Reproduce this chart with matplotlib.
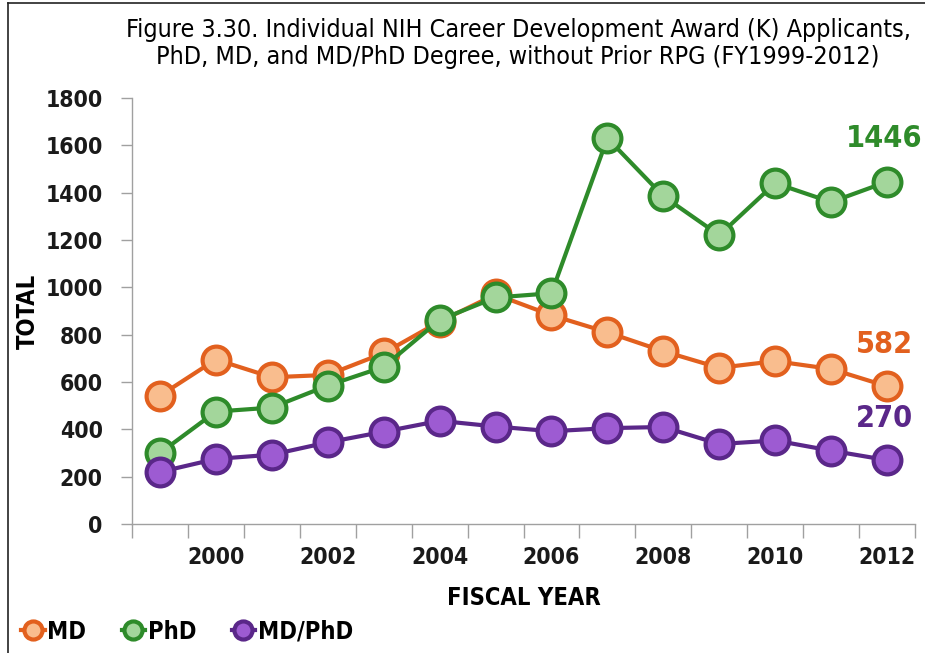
import matplotlib
matplotlib.use('Agg')
import matplotlib.pyplot as plt
from matplotlib.lines import Line2D

plt.rcParams['font.family'] = ['DejaVu Sans']
plt.rcParams['font.stretch'] = 'condensed'

# Data
years = [1999, 2000, 2001, 2002, 2003, 2004, 2005, 2006, 2007, 2008, 2009, 2010, 2011, 2012]
md = [542, 695, 620, 630, 722, 855, 970, 882, 810, 730, 660, 688, 655, 582]
phd = [300, 475, 492, 585, 664, 862, 957, 975, 1630, 1385, 1220, 1440, 1360, 1446]
md_phd = [220, 275, 293, 345, 390, 436, 412, 392, 405, 410, 338, 353, 310, 270]
tick_years = [2000, 2002, 2004, 2006, 2008, 2010, 2012]

series = [
    ('MD', md, '#E2601E', '#F9BD8E'),
    ('PhD', phd, '#2E8B2A', '#A3D69B'),
    ('MD/PhD', md_phd, '#5A2789', '#9D5BD2'),
]

fig = plt.figure(figsize=(9.25, 6.53), dpi=100)
ax = fig.add_axes([0.1427, 0.1975, 0.8465, 0.6525])

for name, vals, edge, face in series:
    ax.plot(years, vals, color=edge, lw=3, marker='o', ms=20,
            mfc=face, mec=edge, mew=3, label=name, zorder=3)

# end-of-series value labels
lab_size = 22
ax.text(2011.95, 1630, str(phd[-1]), color='#2E8B2A', fontsize=lab_size,
        fontweight='bold', ha='center', va='center')
ax.text(2011.95, 757, str(md[-1]), color='#E2601E', fontsize=lab_size,
        fontweight='bold', ha='center', va='center')
ax.text(2011.95, 447, str(md_phd[-1]), color='#5A2789', fontsize=lab_size,
        fontweight='bold', ha='center', va='center')

ax.set_xlim(1998.5, 2012.5)
ax.set_ylim(0, 1800)
ax.set_yticks(range(0, 1801, 200))
ax.set_xticks([y + 0.5 for y in range(1998, 2013)])
ax.set_xticklabels([])
ax.set_xticks(tick_years, minor=True)
ax.set_xticklabels([str(y) for y in tick_years], minor=True)
ax.tick_params(axis='x', which='major', direction='out', length=10,
               width=1, color='#A0A0A0')
ax.tick_params(axis='x', which='minor', length=0, pad=16,
               labelsize=16.5)
ax.tick_params(axis='y', direction='out', length=8, width=1,
               color='#A0A0A0', labelsize=16.5, pad=13)
for lab in ax.get_xticklabels(minor=True) + ax.get_yticklabels():
    lab.set_fontweight('bold')
    lab.set_color('#1a1a1a')

for s in ['top', 'right']:
    ax.spines[s].set_visible(False)
for s in ['left', 'bottom']:
    ax.spines[s].set_color('#A0A0A0')
    ax.spines[s].set_linewidth(1)

ax.set_ylabel('TOTAL', fontsize=17, fontweight='bold', labelpad=4)
ax.set_xlabel('FISCAL YEAR', fontsize=17, fontweight='bold', labelpad=12)

fig.text(0.56, 0.934, 'Figure 3.30. Individual NIH Career Development Award (K) Applicants,\n'
         'PhD, MD, and MD/PhD Degree, without Prior RPG (FY1999-2012)',
         ha='center', va='center', fontsize=18, linespacing=1.15)

handles = [Line2D([], [], color=e, lw=3, marker='o', ms=13, mfc=f, mec=e, mew=3)
           for _, _, e, f in series]
fig.legend(handles, [s[0] for s in series], loc='lower left',
           bbox_to_anchor=(0.0, -0.018), ncol=3, frameon=False,
           prop={'size': 17, 'weight': 'bold'}, handlelength=1.0,
           handletextpad=0.1, columnspacing=1.5)

# partial frame like the source image
fig.add_artist(Line2D([0.009, 0.009], [0, 0.996], color='#222222', lw=1.2))
fig.add_artist(Line2D([0.009, 1], [0.996, 0.996], color='#222222', lw=1.2))

fig.savefig('out.png', dpi=100)
